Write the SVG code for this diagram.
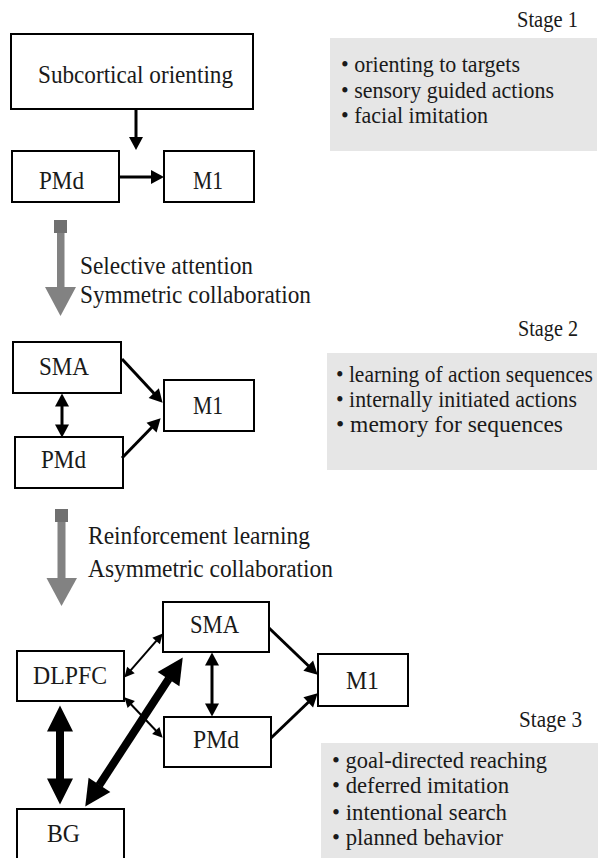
<svg xmlns="http://www.w3.org/2000/svg" width="603" height="858" viewBox="0 0 603 858">
<style>
  text { font-family: 'Liberation Serif', 'Times New Roman', serif; font-size: 25px; fill: #1a1a1a; }
  .b { font-size: 23px; }
  .st { font-size: 23px; }
  .box { fill: #ffffff; stroke: #000; stroke-width: 2; }
  .panel { fill: #e6e6e6; stroke: none; }
  .c3 { stroke: #000; stroke-width: 3; fill: none; }
  .c2 { stroke: #000; stroke-width: 2; fill: none; }
  .c8 { stroke: #000; stroke-width: 8; fill: none; }
  .gshaft { fill: #828282; }
  .gcap { fill: #707070; }
</style>
<defs>
  <marker id="a3" markerUnits="userSpaceOnUse" viewBox="0 -7 13 14" refX="0.5" refY="0" markerWidth="13" markerHeight="14" orient="auto-start-reverse" overflow="visible">
    <path d="M0,-7 L13,0 L0,7 Z" fill="#000"/>
  </marker>
  <marker id="a2" markerUnits="userSpaceOnUse" viewBox="0 -5 10 10" refX="0.5" refY="0" markerWidth="10" markerHeight="10" orient="auto-start-reverse" overflow="visible">
    <path d="M0,-5 L10,0 L0,5 Z" fill="#000"/>
  </marker>
  <marker id="a8" markerUnits="userSpaceOnUse" viewBox="0 -13 26 26" refX="0.5" refY="0" markerWidth="26" markerHeight="26" orient="auto-start-reverse" overflow="visible">
    <path d="M0,-13 L26,0 L0,13 Z" fill="#000"/>
  </marker>
</defs>

<!-- Panels -->
<g id="panel1">
  <rect class="panel" x="330" y="38" width="267" height="113"/>
  <text class="st" x="517" y="27" textLength="61" lengthAdjust="spacingAndGlyphs">Stage 1</text>
  <text class="b" x="341" y="72" textLength="179" lengthAdjust="spacingAndGlyphs">• orienting to targets</text>
  <text class="b" x="341" y="97.5" textLength="213" lengthAdjust="spacingAndGlyphs">• sensory guided actions</text>
  <text class="b" x="341" y="123" textLength="147" lengthAdjust="spacingAndGlyphs">• facial imitation</text>
</g>
<g id="panel2">
  <rect class="panel" x="327" y="353" width="270" height="117"/>
  <text class="st" x="518" y="336" textLength="60" lengthAdjust="spacingAndGlyphs">Stage 2</text>
  <text class="b" x="336" y="382" textLength="257" lengthAdjust="spacingAndGlyphs">• learning of action sequences</text>
  <text class="b" x="336" y="407" textLength="241" lengthAdjust="spacingAndGlyphs">• internally initiated actions</text>
  <text class="b" x="336" y="432" textLength="227" lengthAdjust="spacingAndGlyphs">• memory for sequences</text>
</g>
<g id="panel3">
  <rect class="panel" x="321" y="743" width="277" height="115"/>
  <text class="st" x="519" y="727" textLength="63" lengthAdjust="spacingAndGlyphs">Stage 3</text>
  <text class="b" x="332" y="768" textLength="215" lengthAdjust="spacingAndGlyphs">• goal-directed reaching</text>
  <text class="b" x="332" y="793" textLength="177" lengthAdjust="spacingAndGlyphs">• deferred imitation</text>
  <text class="b" x="332" y="820" textLength="175" lengthAdjust="spacingAndGlyphs">• intentional search</text>
  <text class="b" x="332" y="845" textLength="171" lengthAdjust="spacingAndGlyphs">• planned behavior</text>
</g>

<!-- Stage 1 nodes -->
<g id="s1-subcortical">
  <rect class="box" x="11" y="34" width="242" height="75"/>
  <text x="38" y="83" textLength="195" lengthAdjust="spacingAndGlyphs">Subcortical orienting</text>
</g>
<g id="s1-pmd">
  <rect class="box" x="12" y="151" width="107" height="51"/>
  <text x="39" y="189" textLength="45" lengthAdjust="spacingAndGlyphs">PMd</text>
</g>
<g id="s1-m1">
  <rect class="box" x="164" y="151" width="90" height="51"/>
  <text x="193" y="189" textLength="30" lengthAdjust="spacingAndGlyphs">M1</text>
</g>

<!-- Stage 2 nodes -->
<g id="s2-sma">
  <rect class="box" x="13" y="342" width="108" height="51"/>
  <text x="39" y="375" textLength="50" lengthAdjust="spacingAndGlyphs">SMA</text>
</g>
<g id="s2-m1">
  <rect class="box" x="164" y="380" width="90" height="51"/>
  <text x="193" y="414" textLength="30" lengthAdjust="spacingAndGlyphs">M1</text>
</g>
<g id="s2-pmd">
  <rect class="box" x="15" y="437" width="108" height="51"/>
  <text x="41" y="468" textLength="45" lengthAdjust="spacingAndGlyphs">PMd</text>
</g>

<!-- Transition labels -->
<g id="transition1">
  <text x="80" y="274" textLength="173" lengthAdjust="spacingAndGlyphs">Selective attention</text>
  <text x="80" y="303" textLength="231" lengthAdjust="spacingAndGlyphs">Symmetric collaboration</text>
</g>
<g id="transition2">
  <text x="88" y="544" textLength="222" lengthAdjust="spacingAndGlyphs">Reinforcement learning</text>
  <text x="88" y="577" textLength="245" lengthAdjust="spacingAndGlyphs">Asymmetric collaboration</text>
</g>

<!-- Stage 3 nodes -->
<g id="s3-sma">
  <rect class="box" x="163" y="602" width="106" height="50"/>
  <text x="190" y="633" textLength="49" lengthAdjust="spacingAndGlyphs">SMA</text>
</g>
<g id="s3-dlpfc">
  <rect class="box" x="17" y="651" width="107" height="50"/>
  <text x="33" y="684" textLength="74" lengthAdjust="spacingAndGlyphs">DLPFC</text>
</g>
<g id="s3-pmd">
  <rect class="box" x="164" y="717" width="107" height="50"/>
  <text x="193" y="748" textLength="46" lengthAdjust="spacingAndGlyphs">PMd</text>
</g>
<g id="s3-m1">
  <rect class="box" x="318" y="654" width="90" height="52"/>
  <text x="346" y="689" textLength="33" lengthAdjust="spacingAndGlyphs">M1</text>
</g>
<g id="s3-bg">
  <rect class="box" x="17" y="809" width="107" height="60"/>
  <text x="47" y="842" textLength="33" lengthAdjust="spacingAndGlyphs">BG</text>
</g>

<!-- Connectors -->
<g id="connectors">
  <!-- stage 1 -->
  <line class="c3" x1="136" y1="109" x2="136" y2="137.5" marker-end="url(#a3)"/>
  <line class="c3" x1="119" y1="177" x2="151.5" y2="177" marker-end="url(#a3)"/>
  <!-- stage 2 -->
  <line class="c3" x1="122" y1="359" x2="154.1" y2="393.5" marker-end="url(#a3)"/>
  <line class="c3" x1="122" y1="458" x2="151.9" y2="427.3" marker-end="url(#a3)"/>
  <line class="c3" x1="62" y1="406" x2="62" y2="425" marker-start="url(#a3)" marker-end="url(#a3)"/>
  <!-- stage 3 -->
  <line class="c2" x1="130.6" y1="670.4" x2="156.5" y2="640.6" marker-start="url(#a2)" marker-end="url(#a2)"/>
  <line class="c2" x1="130.9" y1="704.2" x2="156.1" y2="730.8" marker-start="url(#a2)" marker-end="url(#a2)"/>
  <line class="c3" x1="212" y1="665" x2="212" y2="704" marker-start="url(#a3)" marker-end="url(#a3)"/>
  <line class="c3" x1="269" y1="628" x2="308.6" y2="666" marker-end="url(#a3)"/>
  <line class="c3" x1="271" y1="738" x2="308.6" y2="702" marker-end="url(#a3)"/>
  <line class="c8" x1="60" y1="731" x2="60" y2="779" marker-start="url(#a8)" marker-end="url(#a8)"/>
  <line class="c8" x1="99.2" y1="785.2" x2="168.8" y2="678.8" stroke-width="7" marker-start="url(#a8)" marker-end="url(#a8)"/>
  <!-- stage transitions (gray) -->
  <g id="stage-arrow-1">
    <rect class="gcap" x="54" y="220" width="13" height="13"/>
    <rect class="gshaft" x="57" y="233" width="7.5" height="55"/>
    <polygon class="gshaft" points="45,287 76,287 60.5,316"/>
  </g>
  <g id="stage-arrow-2">
    <rect class="gcap" x="55" y="509" width="13" height="13"/>
    <rect class="gshaft" x="57.5" y="522" width="8" height="57"/>
    <polygon class="gshaft" points="46.5,578 77,578 61.5,606"/>
  </g>
</g>
</svg>
